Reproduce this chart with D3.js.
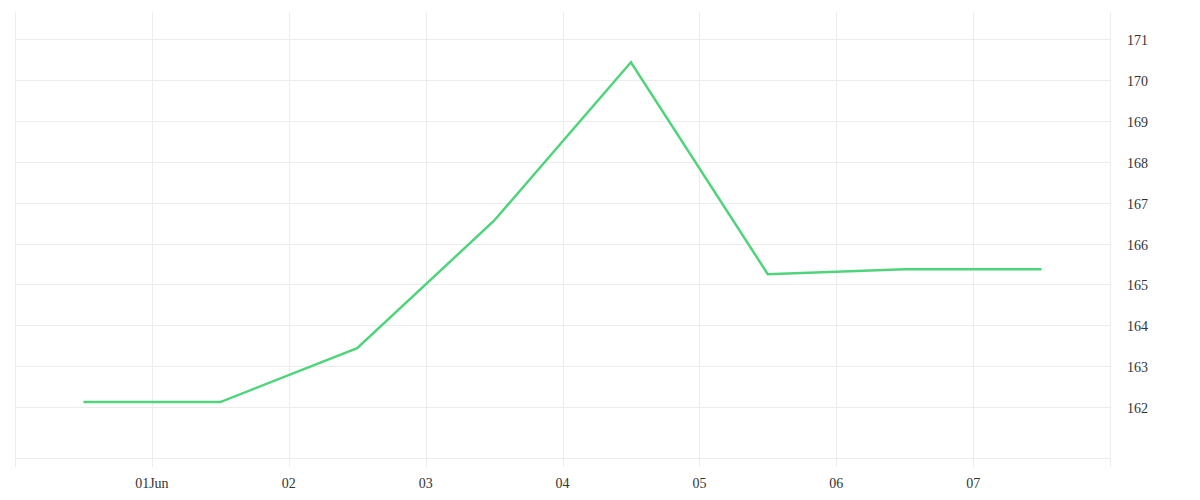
<!DOCTYPE html>
<html><head><meta charset="utf-8">
<script src="https://cdn.jsdelivr.net/npm/d3@7"></script>
<style>body{margin:0;background:#fff}svg{display:block}</style>
</head><body>
<svg id="c" width="1200" height="500"></svg>
<script>
const dates = ["2023-05-31T12:00","2023-06-01T12:00","2023-06-02T12:00","2023-06-03T12:00","2023-06-04T12:00","2023-06-05T12:00","2023-06-06T12:00","2023-06-07T12:00"];
const values = [162.12, 162.12, 163.44, 166.56, 170.44, 165.25, 165.37, 165.37];
const yTicks = [162,163,164,165,166,167,168,169,170,171];
const xTickDates = ["2023-06-01","2023-06-02","2023-06-03","2023-06-04","2023-06-05","2023-06-06","2023-06-07"];
const xTickLabels = ["01Jun","02","03","04","05","06","07"];

const parse = d3.timeParse("%Y-%m-%dT%H:%M");
const parseDay = d3.timeParse("%Y-%m-%d");
const data = dates.map((d,i)=>({t:parse(d), v:values[i]}));

const L=15, R=1110, T=12, B=458;
const x = d3.scaleTime().domain([parseDay("2023-05-31"), parseDay("2023-06-08")]).range([L,R]);
const y = d3.scaleLinear().domain([160.75,171.67]).range([B,T]);

const svg = d3.select("#c");
const grid = "#ececec";
const font = "'Liberation Serif', 'Times New Roman', serif";

svg.append("g").selectAll("line").data(yTicks).join("line")
  .attr("x1",L).attr("x2",R)
  .attr("y1",d=>Math.round(y(d))+0.5).attr("y2",d=>Math.round(y(d))+0.5)
  .attr("stroke",grid).attr("stroke-width",1);
svg.append("line").attr("x1",L).attr("x2",R).attr("y1",B+0.5).attr("y2",B+0.5)
  .attr("stroke",grid).attr("stroke-width",1);

const vLines = [x.domain()[0], ...xTickDates.map(parseDay), x.domain()[1]];
svg.append("g").selectAll("line").data(vLines).join("line")
  .attr("x1",d=>Math.round(x(d))+0.5).attr("x2",d=>Math.round(x(d))+0.5)
  .attr("y1",T).attr("y2",467)
  .attr("stroke",grid).attr("stroke-width",1);

svg.append("g").selectAll("text").data(xTickDates).join("text")
  .attr("x",d=>x(parseDay(d))).attr("y",488)
  .attr("text-anchor","middle")
  .attr("font-family",font).attr("font-size",14).attr("fill","#333")
  .text((d,i)=>xTickLabels[i]);

svg.append("g").selectAll("text").data(yTicks).join("text")
  .attr("x",1127).attr("y",d=>y(d)+6)
  .attr("font-family",font).attr("font-size",14).attr("fill","#333")
  .text(d=>d);

svg.append("path").datum(data)
  .attr("d",d3.line().x(d=>x(d.t)).y(d=>y(d.v)))
  .attr("fill","none").attr("stroke","#4fd47b").attr("stroke-width",2.5)
  .attr("stroke-linejoin","miter");
</script>
</body></html>
